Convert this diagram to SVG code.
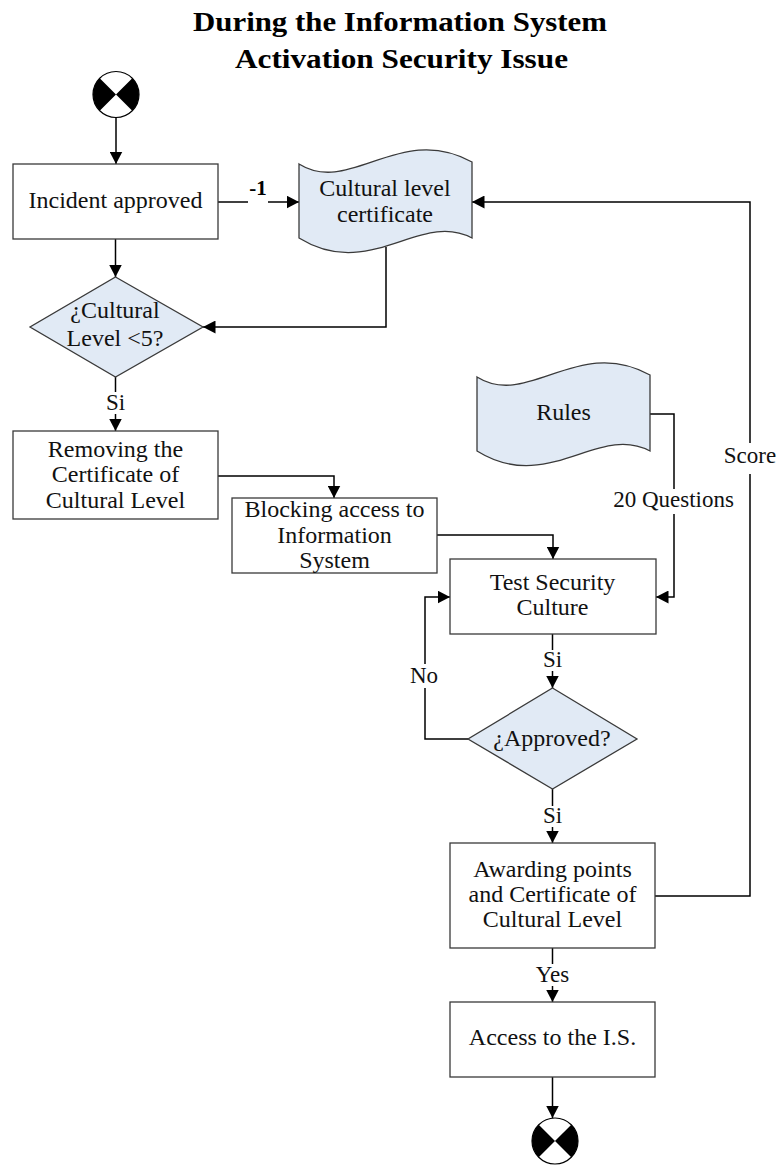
<svg xmlns="http://www.w3.org/2000/svg" width="777" height="1167" viewBox="0 0 777 1167">
  <style>
    .title { font-family: "Liberation Serif", "Times New Roman", serif; font-weight: bold; font-size: 28px; fill: #000; text-anchor: middle; }
    .txt { font-family: "Liberation Serif", "Times New Roman", serif; font-size: 24px; fill: #111; text-anchor: middle; }
    .lbl { font-family: "Liberation Serif", "Times New Roman", serif; font-size: 23px; fill: #111; text-anchor: middle; }
    .lblb { font-family: "Liberation Serif", "Times New Roman", serif; font-size: 21px; font-weight: bold; fill: #000; text-anchor: middle; }
    .box { fill: #fff; stroke: #3a3a3a; stroke-width: 1.3; }
    .dec { fill: #e1eaf5; stroke: #3a3a3a; stroke-width: 1.3; }
    .conn { fill: none; stroke: #000; stroke-width: 1.5; marker-end: url(#arrow); }
    .bg { fill: #fff; }
    .term { fill: #fff; stroke: #000; stroke-width: 1.2; }
  </style>
  <defs>
    <marker id="arrow" markerUnits="userSpaceOnUse" markerWidth="13" markerHeight="13" refX="12.5" refY="6.5" orient="auto">
      <path d="M0,0 L12.5,6.5 L0,13 Z" fill="#000"/>
    </marker>
    <!-- wavy document (tape) outline, local origin at top-left -->
    <path id="tape" d="M0,12 C51,44 101,-30 173,10 L173,86 C121,58 71,130 0,86 Z"/>
    <!-- start / end terminator: circle with black side wedges -->
    <g id="terminator">
      <circle cx="0" cy="0" r="23" class="term"/>
      <path d="M0,0 L-16.26,-16.26 A23,23 0 0 0 -16.26,16.26 Z M0,0 L16.26,-16.26 A23,23 0 0 1 16.26,16.26 Z" fill="#000"/>
    </g>
  </defs>

  <rect x="0" y="0" width="777" height="1167" fill="#fff"/>

  <!-- heading -->
  <g id="title">
    <text class="title" x="400" y="31" textLength="414" lengthAdjust="spacingAndGlyphs">During the Information System</text>
    <text class="title" x="401.5" y="68" textLength="333" lengthAdjust="spacingAndGlyphs">Activation Security Issue</text>
  </g>

  <!-- connectors -->
  <g id="connectors">
    <path class="conn" d="M116,117 V164"/>
    <path class="conn" d="M115.5,239 V277"/>
    <path class="conn" d="M218,202 H299"/>
    <path class="conn" d="M386,247 V327 H203"/>
    <path class="conn" d="M115.5,377 V431"/>
    <path class="conn" d="M218,476 H334 V498"/>
    <path class="conn" d="M437,535 H553 V559"/>
    <path class="conn" d="M650,414 H674 V597 H656"/>
    <path class="conn" d="M552.5,634 V688"/>
    <path class="conn" d="M468,739 H425 V597 H450"/>
    <path class="conn" d="M552.5,789 V843"/>
    <path class="conn" d="M655,896 H750 V202 H472"/>
    <path class="conn" d="M552.5,948 V1002"/>
    <path class="conn" d="M552.5,1077 V1118"/>

    <!-- connector labels -->
    <rect class="bg" x="248" y="186" width="20" height="22"/>
    <text class="lblb" x="258" y="195">-1</text>
    <rect class="bg" x="104" y="392" width="23" height="22"/>
    <text class="lbl" x="115.5" y="410">Si</text>
    <rect class="bg" x="541" y="650" width="23" height="21"/>
    <text class="lbl" x="552.5" y="667">Si</text>
    <rect class="bg" x="409" y="664" width="30" height="24"/>
    <text class="lbl" x="424" y="683">No</text>
    <rect class="bg" x="541" y="806" width="23" height="21"/>
    <text class="lbl" x="552.5" y="823">Si</text>
    <rect class="bg" x="534" y="964" width="38" height="22"/>
    <text class="lbl" x="552.5" y="982">Yes</text>
    <rect class="bg" x="610" y="489" width="127" height="25"/>
    <text class="lbl" x="673.5" y="507">20 Questions</text>
    <rect class="bg" x="722" y="443" width="55" height="31"/>
    <text class="lbl" x="750" y="463">Score</text>
  </g>

  <!-- nodes -->
  <g id="start">
    <use href="#terminator" x="116" y="94.5"/>
  </g>

  <g id="incident-approved">
    <rect class="box" x="13" y="164" width="205" height="75"/>
    <text class="txt" x="115.5" y="208">Incident approved</text>
  </g>

  <g id="cultural-level-certificate">
    <use href="#tape" class="dec" x="299" y="152"/>
    <text class="txt" x="385" y="196">Cultural level</text>
    <text class="txt" x="385" y="222">certificate</text>
  </g>

  <g id="cultural-level-check">
    <polygon class="dec" points="115.5,277 203,327 115.5,377 30,327"/>
    <text class="txt" x="115" y="318">¿Cultural</text>
    <text class="txt" x="115" y="346">Level &lt;5?</text>
  </g>

  <g id="removing-certificate">
    <rect class="box" x="13" y="431" width="205" height="88"/>
    <text class="txt" x="115.5" y="457">Removing the</text>
    <text class="txt" x="115.5" y="482">Certificate of</text>
    <text class="txt" x="115.5" y="508">Cultural Level</text>
  </g>

  <g id="blocking-access">
    <rect class="box" x="232" y="498" width="205" height="75"/>
    <text class="txt" x="334.5" y="517">Blocking access to</text>
    <text class="txt" x="334.5" y="543">Information</text>
    <text class="txt" x="334.5" y="568">System</text>
  </g>

  <g id="rules">
    <use href="#tape" class="dec" x="477" y="365"/>
    <text class="txt" x="563.5" y="420">Rules</text>
  </g>

  <g id="test-security-culture">
    <rect class="box" x="450" y="559" width="206" height="75"/>
    <text class="txt" x="552.5" y="590">Test Security</text>
    <text class="txt" x="552.5" y="615">Culture</text>
  </g>

  <g id="approved-check">
    <polygon class="dec" points="552.5,688 637,739 552.5,789 468,739"/>
    <text class="txt" x="552" y="746">¿Approved?</text>
  </g>

  <g id="awarding-points">
    <rect class="box" x="450" y="843" width="205" height="105"/>
    <text class="txt" x="552.5" y="877">Awarding points</text>
    <text class="txt" x="552.5" y="902">and Certificate of</text>
    <text class="txt" x="552.5" y="927">Cultural Level</text>
  </g>

  <g id="access-is">
    <rect class="box" x="450" y="1002" width="205" height="75"/>
    <text class="txt" x="552.5" y="1045">Access to the I.S.</text>
  </g>

  <g id="end">
    <use href="#terminator" x="555" y="1141"/>
  </g>
</svg>
